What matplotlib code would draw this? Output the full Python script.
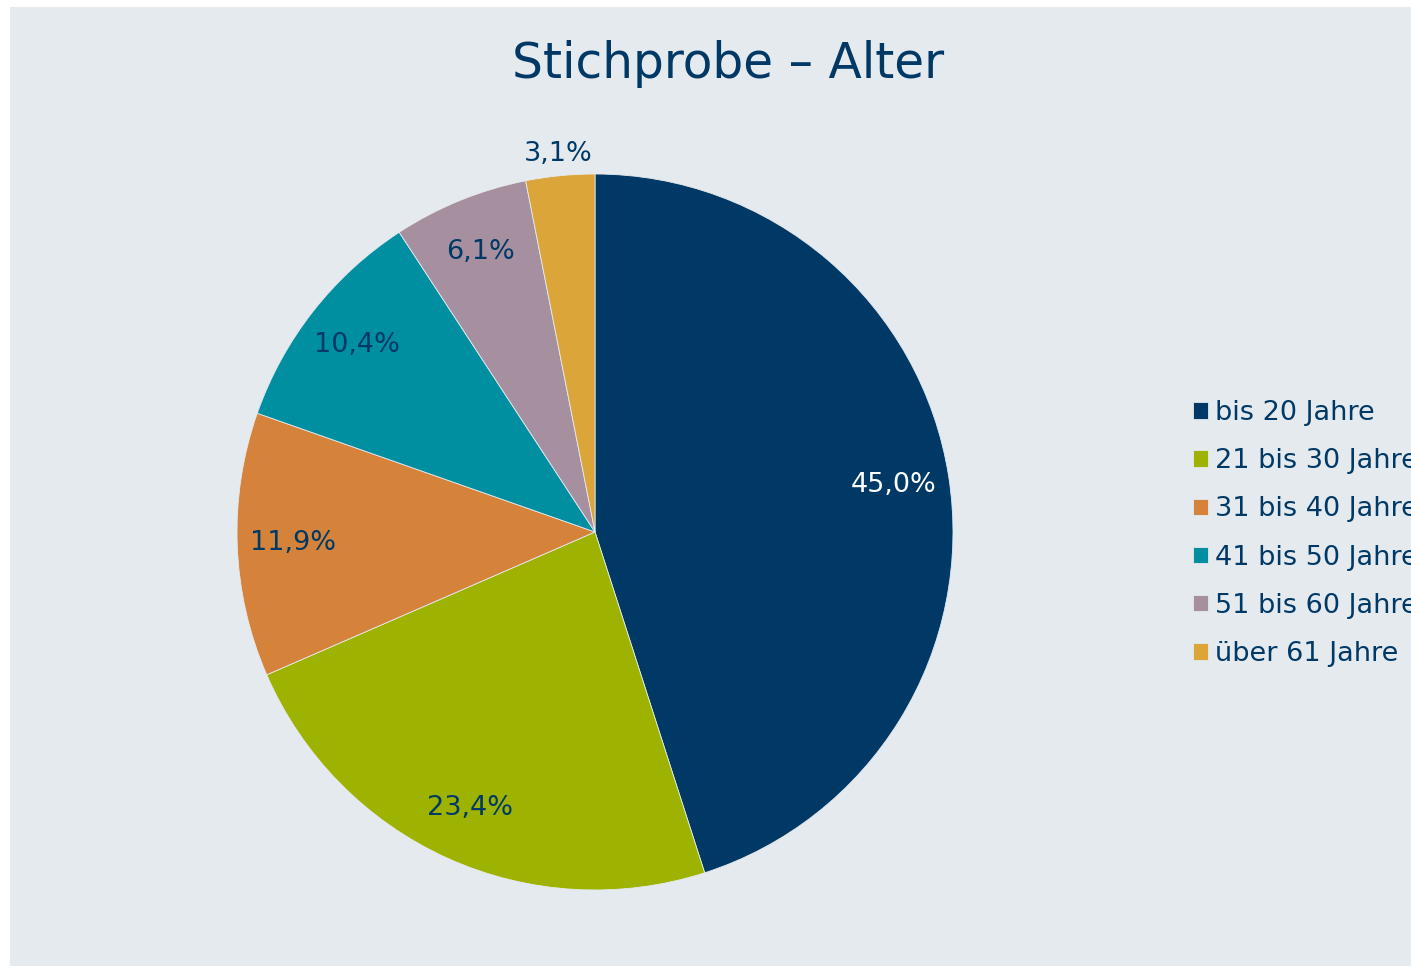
import matplotlib.pyplot as plt
from matplotlib.patches import Rectangle
import numpy as np

# Data
age_groups = ['bis 20 Jahre', '21 bis 30 Jahre', '31 bis 40 Jahre',
              '41 bis 50 Jahre', '51 bis 60 Jahre', 'über 61 Jahre']
shares = [45.0, 23.4, 11.9, 10.4, 6.1, 3.1]
colors = ['#003966', '#9eb300', '#d5833a', '#008ea1', '#a68f9f', '#dca539']
label_colors = ['white', '#003966', '#003966', '#003966', '#003966', '#003966']

navy = '#003966'
panel = '#e5eaef'

plt.rcParams['font.family'] = ['DejaVu Sans']

fig = plt.figure(figsize=(14.11, 9.68), dpi=100, facecolor='white')
W, H = 1411, 968

# grey panel behind everything
fig.patches.append(Rectangle((10 / W, 2 / H), 1, 959 / H, transform=fig.transFigure,
                             facecolor=panel, edgecolor='none', zorder=-5))

cx, cy, r = 595, 532, 358
ax = fig.add_axes([(cx - r) / W, (H - cy - r) / H, 2 * r / W, 2 * r / H])
ax.set_facecolor('none')
ax.set_zorder(2)

wedges, texts = ax.pie(shares, colors=colors, startangle=90, counterclock=False,
                       radius=1, wedgeprops=dict(edgecolor=panel, linewidth=0.6))
ax.set_xlim(-1, 1)
ax.set_ylim(-1, 1)
ax.set_aspect('equal')
ax.axis('off')

# percentage labels: inside for the large slices, outside for the smallest
for w, val, tc in zip(wedges, shares, label_colors):
    ang = np.deg2rad((w.theta1 + w.theta2) / 2)
    dist = 1.06 if val < 5 else 0.845
    ax.text(dist * np.cos(ang), dist * np.sin(ang), f'{val:.1f}%'.replace('.', ','),
            ha='center', va='center', fontsize=19.5, color=tc, clip_on=False)

fig.text(728 / W, 1 - 78 / H, 'Stichprobe – Alter', ha='center', va='baseline',
         fontsize=35, color=navy)

leg = fig.legend(wedges, age_groups, loc='upper left',
                 bbox_to_anchor=(1193 / W, 1 - 400 / H), frameon=False,
                 fontsize=19.5, handlelength=0.55, handleheight=0.55,
                 handletextpad=0.26, labelspacing=0.82, borderpad=0, borderaxespad=0)
for t in leg.get_texts():
    t.set_color(navy)

fig.savefig('out.png', dpi=100, facecolor='white')
